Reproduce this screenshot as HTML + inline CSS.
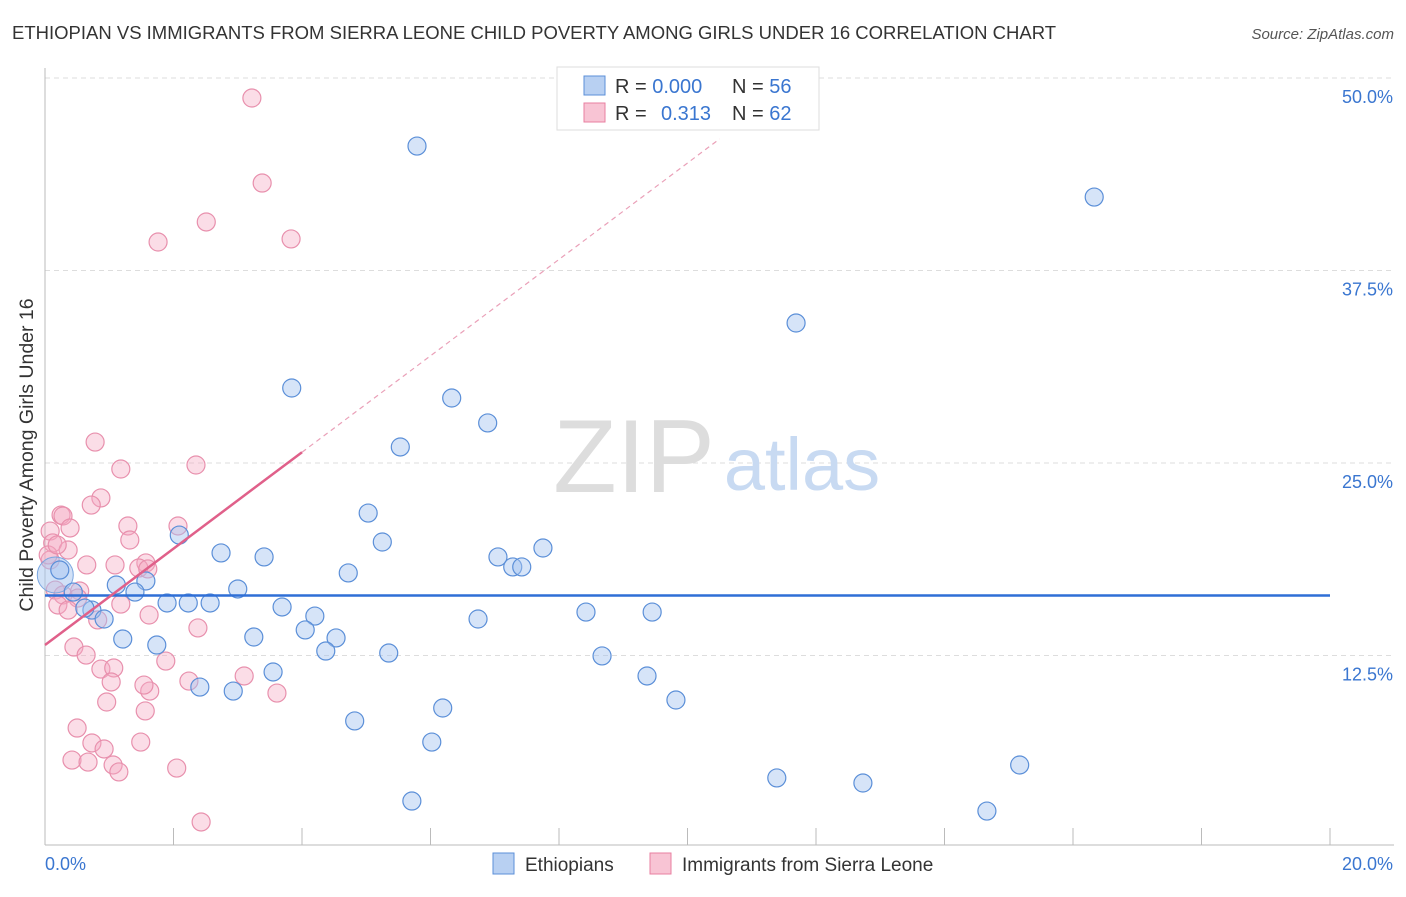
<!DOCTYPE html>
<html><head><meta charset="utf-8"><style>
body{margin:0;background:#fff;font-family:"Liberation Sans",sans-serif;}
svg text{font-family:"Liberation Sans",sans-serif;}
</style></head><body>
<svg id="chart" width="1406" height="892">
<text x="12" y="39" font-size="18.5" fill="#333">ETHIOPIAN VS IMMIGRANTS FROM SIERRA LEONE CHILD POVERTY AMONG GIRLS UNDER 16 CORRELATION CHART</text>
<text x="1394" y="39" font-size="15" fill="#555" font-style="italic" text-anchor="end">Source: ZipAtlas.com</text>
<g id="grid"></g>
<text x="634" y="492" font-size="104" fill="#ddd" font-family="Liberation Serif" text-anchor="middle">ZIP</text>
<text x="802" y="490" font-size="74" fill="#c8daf2" text-anchor="middle">atlas</text>
<text transform="translate(33,455) rotate(-90)" font-size="19.5" fill="#333" text-anchor="middle">Child Poverty Among Girls Under 16</text>
<g id="marks"></g>
<g>
<rect x="557" y="67" width="262" height="63" fill="#fff" stroke="#ddd"/>
<rect x="584" y="76" width="21" height="19" fill="#b8d0f2" stroke="#5b8fd8"/>
<rect x="584" y="103" width="21" height="19" fill="#f8c4d4" stroke="#e87fa0"/>
<text x="615" y="93" font-size="20" fill="#333">R = <tspan fill="#3a76d0">0.000</tspan></text>
<text x="732" y="93" font-size="20" fill="#333">N = <tspan fill="#3a76d0">56</tspan></text>
<text x="615" y="120" font-size="20" fill="#333">R = <tspan fill="#3a76d0" x="661">0.313</tspan></text>
<text x="732" y="120" font-size="20" fill="#333">N = <tspan fill="#3a76d0">62</tspan></text>
</g>
<g>
<rect x="493" y="853" width="21" height="21" fill="#b8d0f2" stroke="#5b8fd8"/>
<text x="525" y="871" font-size="19" fill="#333">Ethiopians</text>
<rect x="650" y="853" width="21" height="21" fill="#f8c4d4" stroke="#e87fa0"/>
<text x="682" y="871" font-size="19" fill="#333">Immigrants from Sierra Leone</text>
</g>
</svg>
<script>
const xTicks=[2,4,6,8,10,12,14,16,18,20];
const yTicks=[12.5,25,37.5,50];
const yTickLabels=["12.5%","25.0%","37.5%","50.0%"];
const xTickLabels=["0.0%","20.0%"];
const blueX=[5.79,16.33,11.69,3.84,6.33,6.89,5.53,5.03,2.09,5.25,7.75,2.74,3.41,7.05,7.28,7.42,4.72,1.57,1.11,3.00,0.44,1.40,1.90,2.23,2.57,3.69,8.42,9.45,4.20,0.73,0.92,6.74,4.05,1.21,1.74,3.25,4.53,4.37,5.35,8.67,3.55,9.37,2.41,2.93,9.82,4.82,6.19,6.02,11.39,12.73,15.17,5.71,14.66,0.23,0.62];
const blueY=[45.58,42.27,34.09,29.87,29.22,27.60,26.04,21.75,20.32,19.87,19.48,19.16,18.90,18.90,18.25,18.25,17.86,17.34,17.08,16.82,16.62,16.62,15.91,15.91,15.91,15.65,15.32,15.32,15.06,15.45,14.87,14.87,14.16,13.57,13.18,13.70,13.64,12.79,12.66,12.47,11.43,11.17,10.45,10.19,9.61,8.25,9.09,6.88,4.55,4.22,5.39,3.05,2.40,18.05,15.58];
const bigBlue=[0.16,17.73];
const pinkX=[3.22,3.38,2.51,1.76,3.83,0.78,1.18,2.35,0.87,0.72,0.25,0.28,0.39,1.29,2.07,0.08,0.12,0.36,1.32,1.57,1.09,0.65,1.46,1.60,0.08,0.16,0.28,0.54,0.51,1.18,0.20,0.36,0.82,1.62,2.38,0.45,0.64,1.88,0.87,1.07,1.03,1.63,1.54,2.24,3.10,3.61,0.96,1.56,0.50,0.73,0.92,1.49,0.42,0.67,1.06,1.15,2.05,2.43,0.05,0.19];
const pinkY=[48.70,43.18,40.65,39.35,39.55,26.36,24.61,24.87,22.73,22.27,21.62,21.56,20.78,20.91,20.91,20.58,19.81,19.35,20.00,18.51,18.38,18.38,18.18,18.12,18.70,16.75,16.43,16.69,16.23,15.84,15.78,15.45,14.81,15.13,14.29,13.05,12.53,12.14,11.62,11.69,10.78,10.19,10.58,10.84,11.17,10.06,9.48,8.90,7.79,6.82,6.43,6.88,5.71,5.58,5.39,4.94,5.19,1.69,19.03,19.68];
const blueMean=16.4;
const pinkIntercept=13.18, pinkSlope=3.13, pinkSolidEnd=4.0, pinkDashEnd=10.5;

const NS="http://www.w3.org/2000/svg";
const sx=v=>45+v/20*1285;
const sy=v=>848-v/50*770;
function mk(t,a,p){const e=document.createElementNS(NS,t);for(const k in a)e.setAttribute(k,a[k]);p.appendChild(e);return e;}
const grid=document.getElementById('grid'),marks=document.getElementById('marks');
yTicks.forEach((t,i)=>{
  const l=mk('line',{x1:45,x2:1394,y1:sy(t),y2:sy(t),stroke:'#ddd','stroke-dasharray':'5,4'},grid);
  
  
  const tx=mk('text',{x:1393,y:sy(t)+25,'font-size':18,fill:'#3a76d0','text-anchor':'end'},grid);
  tx.textContent=yTickLabels[i];
  
  
});
const ax=mk('line',{x1:45,x2:1394,y1:845,y2:845,stroke:'#bbb'},grid);


const ay=mk('line',{x1:45,x2:45,y1:68,y2:845,stroke:'#bbb'},grid);


xTicks.forEach(t=>{
  const l=mk('line',{x1:sx(t),x2:sx(t),y1:828,y2:845,stroke:'#bbb'},grid);
  
  
});
const xl0=mk('text',{x:45,y:870,'font-size':18,fill:'#3a76d0'},grid);xl0.textContent=xTickLabels[0];


const xl1=mk('text',{x:1393,y:870,'font-size':18,fill:'#3a76d0','text-anchor':'end'},grid);xl1.textContent=xTickLabels[1];



pinkX.forEach((x,i)=>{
  const c=mk('circle',{cx:sx(x),cy:sy(pinkY[i]),r:9,fill:'rgba(244,170,194,0.4)',stroke:'#e890ad','stroke-width':1.2},marks);
  
  
});
const bb=mk('circle',{cx:sx(bigBlue[0]),cy:sy(bigBlue[1]),r:18,fill:'rgba(164,196,240,0.5)',stroke:'#7aa6e0','stroke-width':1},marks);


blueX.forEach((x,i)=>{
  const c=mk('circle',{cx:sx(x),cy:sy(blueY[i]),r:9,fill:'rgba(164,196,240,0.45)',stroke:'#5b8fd8','stroke-width':1.2},marks);
  
  
});
const bl=mk('line',{x1:sx(0),x2:sx(20),y1:sy(blueMean),y2:sy(blueMean),stroke:'#2f6fd6','stroke-width':2.5},marks);


const pl=mk('line',{x1:sx(0),y1:sy(pinkIntercept),x2:sx(pinkSolidEnd),y2:sy(pinkIntercept+pinkSlope*pinkSolidEnd),stroke:'#e0608a','stroke-width':2.5},marks);


const pd=mk('line',{x1:sx(pinkSolidEnd),y1:sy(pinkIntercept+pinkSlope*pinkSolidEnd),x2:sx(pinkDashEnd),y2:sy(pinkIntercept+pinkSlope*pinkDashEnd),stroke:'#eaa0b8','stroke-width':1.2,'stroke-dasharray':'5,4'},marks);


</script>
</body></html>
